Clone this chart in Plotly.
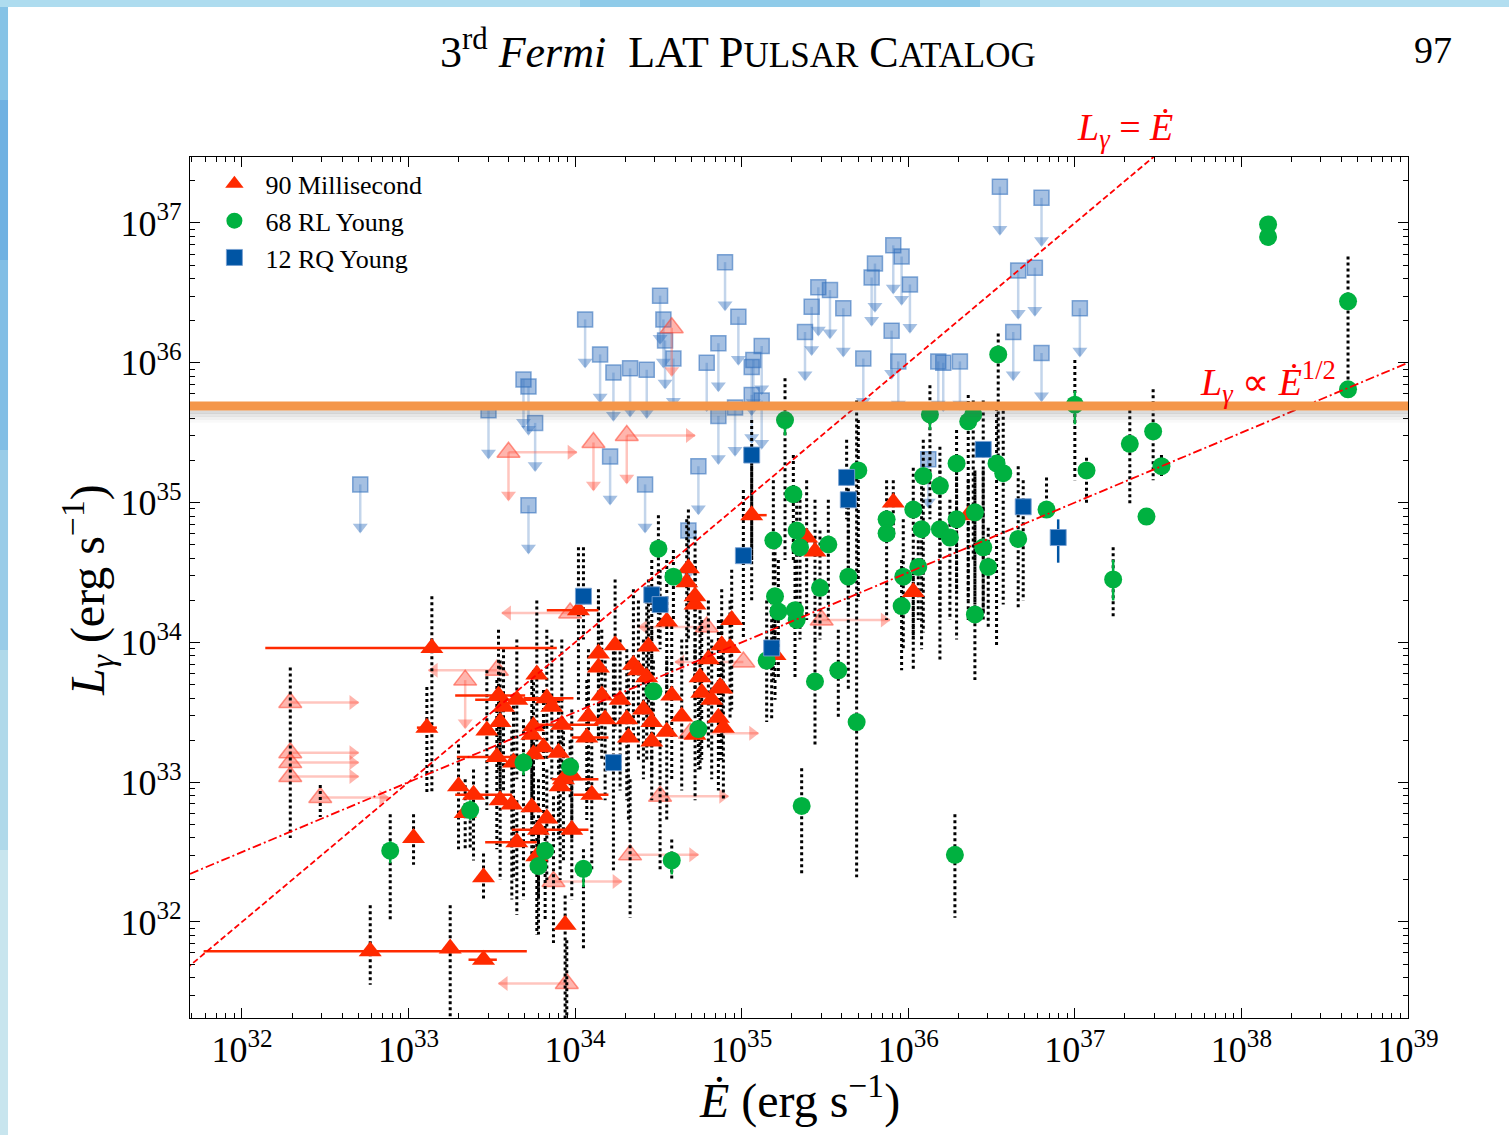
import numpy as np
import plotly.graph_objects as go

# ---------------- data: log10 values ----------------
# Millisecond pulsars (solid triangles)
msp_logE = [32.77, 33.25, 33.45, 33.94, 33.45, 33.03, 33.14, 33.11, 33.30, 33.39,
            33.55, 33.62, 33.74, 33.83, 33.78, 33.98, 33.65, 33.77, 33.34, 33.53,
            33.63, 33.75, 33.90, 33.98, 33.93, 34.10, 33.81, 33.55, 33.47, 33.75,
            33.74, 33.92, 34.08, 34.07, 34.32, 34.41, 34.46, 34.46, 34.55, 34.64,
            34.72, 34.86, 34.89, 33.54, 33.65, 33.57, 33.83, 33.86, 34.16, 34.31,
            34.58, 34.76, 33.77, 34.43, 34.80, 34.75, 34.88, 34.14, 34.35, 34.38,
            34.24, 34.14, 34.44, 34.88, 34.93, 34.02, 34.72, 34.55, 34.94, 34.68,
            34.67, 34.72, 35.06, 35.39, 35.44, 35.91, 36.36, 36.03, 35.20, 34.87,
            34.82, 34.27, 33.91, 34.18]
msp_logL = [31.79, 31.81, 31.73, 31.98, 32.32, 32.60, 33.96, 33.39, 32.97, 32.91,
            32.87, 32.84, 32.82, 32.74, 32.66, 32.66, 32.57, 32.47, 32.78, 33.18,
            33.14, 33.20, 33.21, 33.05, 33.02, 32.91, 33.25, 33.43, 33.37, 33.40,
            33.34, 33.41, 33.47, 33.32, 33.32, 33.52, 33.43, 33.29, 33.36, 33.47,
            33.34, 33.46, 33.39, 33.62, 33.59, 33.54, 33.60, 33.54, 33.62, 33.45,
            33.62, 33.64, 33.77, 33.75, 33.88, 33.75, 33.67, 33.82, 33.84, 33.80,
            33.98, 33.92, 33.97, 33.98, 33.96, 34.23, 34.27, 34.15, 34.16, 34.53,
            34.43, 34.33, 34.91, 34.75, 34.65, 35.00, 34.91, 34.36, 33.91, 33.68,
            33.59, 33.59, 32.97, 33.45]
msp_dist_hi = [32.12, 32.12, None, 32.19, 32.49, 32.77, 34.33, 33.68, 33.27, 33.09,
               33.59, 33.37, 33.45, 33.09, 33.02, 33.02, 32.87, 32.73, 33.02, 33.73,
               33.59, 33.45, 33.59, 33.52, 33.45, 33.30, 33.66, 33.87, 33.80, 33.80,
               33.73, 34.02, 33.95, 33.73, 33.87, 34.02, 34.09, 33.87, 33.87, 34.02,
               33.95, 34.16, 34.02, 34.09, 34.02, 33.95, 34.09, 34.02, 34.09, 33.95,
               34.16, 34.16, 34.30, 34.30, 34.30, 34.23, 34.16, 34.30, 34.38, 34.30,
               34.45, 34.38, 34.45, 34.38, 34.30, 34.68, 34.59, 34.59, 34.52, 34.95,
               34.88, 34.80, 35.31, 35.16, 35.02, 35.16, 35.16, 34.59, 34.16, 34.16,
               34.02, 34.02, 33.30, 33.87]
msp_dist_lo = [31.55, 31.25, None, 31.26, 32.16, 32.41, 32.92, 32.92, 32.52, 32.44,
               32.30, 32.16, 32.37, 32.30, 32.16, 32.16, 32.05, 31.91, 32.52, 32.52,
               32.30, 32.37, 32.59, 32.59, 32.44, 32.37, 32.73, 32.87, 32.80, 32.87,
               32.73, 33.02, 32.94, 32.73, 32.73, 33.02, 33.02, 32.87, 32.73, 32.94,
               32.87, 32.94, 32.87, 33.09, 33.02, 32.94, 33.16, 33.02, 33.16, 32.87,
               33.02, 33.16, 33.16, 33.16, 33.23, 33.09, 33.16, 33.30, 33.30, 33.16,
               33.37, 33.30, 33.45, 33.30, 33.45, 33.59, 33.59, 33.59, 33.52, 34.02,
               33.87, 33.73, 34.30, 34.16, 34.02, 34.73, 34.16, 34.02, 33.59, 33.16,
               33.02, 32.94, 32.30, 32.87]
# MSP Edot uncertainties (solid red horizontal bars)
msp_xbar_logL = [31.79, 31.73, 33.96, 33.39, 34.23, 33.62, 33.59, 33.60, 33.41,
                 33.18, 32.91, 32.57, 32.66, 33.02, 32.91, 33.32, 34.91]
msp_xbar_lo = [31.77, 33.36, 32.14, 33.05, 33.83, 33.28, 33.40, 33.69, 33.78,
               33.29, 33.28, 33.46, 33.62, 33.86, 33.99, 33.98, 35.06]
msp_xbar_hi = [33.71, 33.53, 33.89, 33.17, 34.14, 33.70, 33.93, 33.99, 34.14,
               33.69, 33.62, 33.77, 34.08, 34.14, 34.20, 34.20, 35.15]

# MSP limits (faded triangles with arrows): r = lower limit in Edot, l = upper limit, d = upper limit in L
mspl_logE = [32.29, 32.29, 32.29, 32.29, 32.47, 33.60, 34.31, 33.87, 34.33, 34.51,
             35.48, 34.69, 33.97, 33.53, 34.79, 33.95, 35.01, 33.34, 34.11, 34.58]
mspl_logL = [33.57, 33.21, 33.14, 33.04, 32.89, 35.36, 35.48, 32.29, 32.48, 32.90,
             34.16, 33.35, 34.21, 33.80, 34.11, 31.56, 33.86, 33.73, 35.43, 36.25]
mspl_dir = ['r', 'r', 'r', 'r', 'r', 'rd', 'rd', 'r', 'r', 'r',
            'r', 'r', 'l', 'l', 'l', 'l', 'l', 'd', 'd', 'd']
mspl_dist_hi = [33.82, None, None, None, 32.98, None, None, 32.90, 33.02, 33.30,
                None, None, None, None, None, 31.87, None, None, None, None]
mspl_dist_lo = [32.60, None, None, None, 32.75, None, None, 31.85, 32.03, 32.37,
                None, None, None, None, None, 31.25, None, None, None, None]

# Radio-loud young pulsars (green circles)
rl_logE = [38.16, 38.16, 38.64, 38.64, 37.00, 36.54, 35.26, 36.13, 36.36, 36.39,
           37.33, 37.47, 37.52, 37.07, 37.43, 37.23, 36.83, 36.66, 36.28, 36.40,
           36.48, 36.45, 36.53, 36.57, 36.29, 36.09, 36.19, 36.03, 36.08, 36.19,
           36.25, 36.29, 36.40, 35.87, 35.87, 36.06, 35.97, 35.96, 35.70, 35.64,
           35.52, 35.47, 35.58, 35.69, 35.44, 35.36, 35.31, 35.33, 35.35, 35.19,
           35.20, 35.22, 35.32, 35.33, 35.15, 34.50, 34.59, 34.47, 34.74, 34.58,
           33.97, 33.69, 33.37, 32.89, 33.82, 33.78, 34.05]
rl_logL = [36.99, 36.90, 36.44, 35.81, 35.70, 36.06, 35.59, 35.63, 35.58, 35.63,
           35.42, 35.51, 35.26, 35.23, 34.90, 34.45, 34.95, 34.74, 32.48, 34.20,
           34.54, 34.68, 35.28, 35.21, 35.28, 35.19, 35.12, 34.95, 34.81, 34.81,
           34.75, 34.88, 34.93, 34.88, 34.78, 34.54, 34.47, 34.26, 35.23, 34.47,
           34.70, 34.39, 33.80, 33.43, 33.72, 32.83, 35.06, 34.80, 34.68, 34.73,
           34.33, 34.22, 34.23, 34.16, 33.87, 34.67, 34.47, 33.65, 33.38, 32.44,
           33.11, 33.14, 32.80, 32.51, 32.51, 32.40, 32.38]
rl_dist_hi = [None, None, 36.76, None, 36.02, 36.21, 35.89, 35.84, 35.77, 35.73,
              35.66, 35.81, 35.34, 35.32, None, 34.68, 35.18, 35.26, 32.77, 35.21,
              34.82, 35.23, 35.72, 35.70, 35.52, 35.45, 35.40, 35.25, 35.16, 35.23,
              35.02, 35.23, 35.23, 35.16, None, 34.73, 34.88, 34.59, 35.59, 35.02,
              35.02, 34.80, 34.09, 35.73, 34.02, 33.10, 35.34, 35.02, 35.02, 35.16,
              34.73, 34.59, 34.59, None, 34.30, 34.91, 34.66, 33.87, 33.66, 32.59,
              33.30, 33.45, 32.94, 32.77, 32.73, 32.66, 32.52]
rl_dist_lo = [None, None, 35.73, None, 35.16, 35.31, 34.59, 34.88, 34.30, 34.59,
              34.98, 35.16, 35.18, 34.98, None, 34.18, 34.88, 34.25, 32.03, 33.73,
              34.09, 34.21, 33.98, 34.27, 34.35, 34.07, 34.18, 33.80, 33.95, 33.87,
              34.16, 34.02, 34.27, 34.16, None, 34.16, 33.95, 33.80, 34.30, 33.66,
              34.16, 34.02, 33.45, 32.32, 33.27, 32.34, 34.59, 34.16, 34.02, 33.73,
              33.95, 33.73, 33.73, None, 33.43, 34.02, 34.16, 33.30, 33.09, 32.30,
              32.87, 32.16, 32.52, 32.01, 32.01, 31.91, 31.80]
# short solid flux-error bars on some RL points
rl_cbar_logE = [37.00, 37.23, 33.37, 32.89, 34.05, 33.69, 36.13, 35.26, 34.58]
rl_cbar_hi = [35.80, 34.59, 32.87, 32.58, 32.44, 33.21, 35.70, 35.56, 32.47]
rl_cbar_lo = [35.56, 34.30, 32.73, 32.42, 32.25, 33.05, 35.52, 35.48, 32.34]

# Radio-quiet young pulsars (blue squares)
rq_logE = [34.05, 34.46, 34.51, 34.23, 35.18, 35.01, 35.06, 35.63, 35.64, 36.45, 36.69, 36.90]
rq_logL = [34.33, 34.34, 34.27, 33.14, 33.96, 34.62, 35.34, 35.18, 35.02, 35.38, 34.97, 34.75]
rq_dist_hi = [34.68, 34.59, 34.52, 34.02, 34.38, 35.09, 35.59, 35.45, 35.23, 35.73, 35.16, None]
rq_dist_lo = [34.02, 33.87, 33.95, 32.37, 33.45, 34.02, 34.59, 34.88, 34.23, 34.16, 34.30, None]
rq_cbar_logE = [36.90]
rq_cbar_hi = [34.88]
rq_cbar_lo = [34.57]

# Pulsars with only an upper limit on L (faded squares with down arrows)
rqul_logE = [32.71, 33.48, 33.69, 33.72, 33.76, 33.72, 34.06, 34.15, 34.23, 34.33,
             34.43, 34.51, 34.53, 34.54, 34.59, 34.21, 34.42, 34.74, 34.68, 34.79,
             34.86, 34.86, 34.90, 34.98, 34.96, 35.06, 35.07, 35.06, 35.12, 35.12,
             35.38, 35.42, 35.46, 35.53, 35.61, 35.73, 35.78, 35.80, 35.90, 35.91,
             35.94, 35.96, 36.01, 36.12, 36.18, 36.21, 36.31, 36.55, 36.63, 36.66,
             36.76, 36.80, 36.80, 37.03]
rqul_logL = [35.13, 35.66, 35.88, 35.83, 35.57, 34.98, 36.31, 36.06, 35.93, 35.96,
             35.95, 36.48, 36.31, 36.16, 36.03, 35.33, 35.13, 35.26, 34.80, 36.00,
             36.14, 35.62, 36.72, 36.33, 35.68, 35.97, 36.02, 35.77, 35.73, 36.12,
             36.22, 36.40, 36.54, 36.52, 36.39, 36.03, 36.61, 36.71, 36.23, 36.84,
             36.01, 36.76, 36.56, 35.31, 36.01, 36.00, 36.01, 37.26, 36.22, 36.66,
             36.68, 37.18, 36.07, 36.39]

# reference model lines
ref_logE = [31.5, 39.6]
ETA1_NORM = 1.0          # L = Edot
SQRT_NORM = 1e33         # L = sqrt(1e33 * Edot)

legend_names = ["90 Millisecond", "68 RL Young", "12 RQ Young"]

# ---------------- style ----------------
RED = '#FF2A00'
GREEN = '#00B140'
BLUE = '#0055A4'
FBLUE = 'rgba(55,115,190,0.45)'
FBLUE_EDGE = 'rgba(55,115,190,0.6)'
FBLUE_STEM = 'rgba(55,115,190,0.3)'
FRED = 'rgba(255,70,50,0.4)'
FRED_EDGE = 'rgba(255,70,50,0.55)'
FRED_STEM = 'rgba(255,90,70,0.35)'
FONT = 'Liberation Serif'
UL_DEX = 0.34   # arrow length (decades) for vertical limit arrows
H_DEX = 0.41    # arrow length (decades) for horizontal limit arrows
HEAD_OFF = 0.035


def p(v):
    return 10.0 ** v


def vsegs(xs, his, los):
    X, Y = [], []
    for x, h, l in zip(xs, his, los):
        if h is None or l is None:
            continue
        X += [p(x), p(x), None]
        Y += [p(h), p(l), None]
    return X, Y


def hsegs(ys, los, his):
    X, Y = [], []
    for y, a, b in zip(ys, los, his):
        X += [p(a), p(b), None]
        Y += [p(y), p(y), None]
    return X, Y


fig = go.Figure()

# ---- faded upper-limit squares ----
sx, sy = [], []
hx, hy = [], []
for e, l in zip(rqul_logE, rqul_logL):
    sx += [p(e), p(e), None]
    sy += [p(l), p(l - UL_DEX), None]
    hx.append(p(e))
    hy.append(p(l - UL_DEX + HEAD_OFF))
fig.add_trace(go.Scatter(x=sx, y=sy, mode='lines', line=dict(color=FBLUE_STEM, width=2.5),
                         showlegend=False, hoverinfo='skip'))
fig.add_trace(go.Scatter(x=hx, y=hy, mode='markers',
                         marker=dict(symbol='triangle-down', size=13, color=FBLUE, line=dict(width=0)),
                         showlegend=False, hoverinfo='skip'))
fig.add_trace(go.Scatter(x=[p(e) for e in rqul_logE], y=[p(l) for l in rqul_logL], mode='markers',
                         marker=dict(symbol='square', size=15, color=FBLUE,
                                     line=dict(color=FBLUE_EDGE, width=1.5)),
                         showlegend=False, hoverinfo='skip'))

# ---- faded MSP limits ----
ax_, ay_ = [], []
heads = {'triangle-right': ([], []), 'triangle-left': ([], []), 'triangle-down': ([], [])}
for e, l, d in zip(mspl_logE, mspl_logL, mspl_dir):
    if 'r' in d:
        ax_ += [p(e), p(e + H_DEX), None]
        ay_ += [p(l), p(l), None]
        heads['triangle-right'][0].append(p(e + H_DEX - HEAD_OFF))
        heads['triangle-right'][1].append(p(l))
    if 'l' in d:
        ax_ += [p(e), p(e - H_DEX), None]
        ay_ += [p(l), p(l), None]
        heads['triangle-left'][0].append(p(e - H_DEX + HEAD_OFF))
        heads['triangle-left'][1].append(p(l))
    if 'd' in d:
        ax_ += [p(e), p(e), None]
        ay_ += [p(l), p(l - UL_DEX), None]
        heads['triangle-down'][0].append(p(e))
        heads['triangle-down'][1].append(p(l - UL_DEX + HEAD_OFF))
fig.add_trace(go.Scatter(x=ax_, y=ay_, mode='lines', line=dict(color=FRED_STEM, width=2.5),
                         showlegend=False, hoverinfo='skip'))
for sym, (xx, yy) in heads.items():
    fig.add_trace(go.Scatter(x=xx, y=yy, mode='markers',
                             marker=dict(symbol=sym, size=13, color=FRED, line=dict(width=0)),
                             showlegend=False, hoverinfo='skip'))
fig.add_trace(go.Scatter(x=[p(e) for e in mspl_logE], y=[p(l) for l in mspl_logL], mode='markers',
                         marker=dict(symbol='triangle-up', size=20, color=FRED,
                                     line=dict(color=FRED_EDGE, width=1.5)),
                         showlegend=False, hoverinfo='skip'))

# ---- dotted distance-uncertainty bars ----
DX, DY = [], []
for xs, hs, ls in [(msp_logE, msp_dist_hi, msp_dist_lo),
                   (mspl_logE, mspl_dist_hi, mspl_dist_lo),
                   (rl_logE, rl_dist_hi, rl_dist_lo),
                   (rq_logE, rq_dist_hi, rq_dist_lo)]:
    a, b = vsegs(xs, hs, ls)
    DX += a
    DY += b
fig.add_trace(go.Scatter(x=DX, y=DY, mode='lines', line=dict(color='black', width=3, dash='dot'),
                         showlegend=False, hoverinfo='skip'))

# ---- solid error bars ----
a, b = hsegs(msp_xbar_logL, msp_xbar_lo, msp_xbar_hi)
fig.add_trace(go.Scatter(x=a, y=b, mode='lines', line=dict(color=RED, width=2.5),
                         showlegend=False, hoverinfo='skip'))
a, b = vsegs(rl_cbar_logE, rl_cbar_hi, rl_cbar_lo)
fig.add_trace(go.Scatter(x=a, y=b, mode='lines', line=dict(color=GREEN, width=2.5),
                         showlegend=False, hoverinfo='skip'))
a, b = vsegs(rq_cbar_logE, rq_cbar_hi, rq_cbar_lo)
fig.add_trace(go.Scatter(x=a, y=b, mode='lines', line=dict(color=BLUE, width=2.5),
                         showlegend=False, hoverinfo='skip'))

# ---- main markers ----
fig.add_trace(go.Scatter(x=[p(e) for e in msp_logE], y=[p(l) for l in msp_logL], mode='markers',
                         name=legend_names[0],
                         marker=dict(symbol='triangle-up', size=20, color=RED, line=dict(width=0))))
fig.add_trace(go.Scatter(x=[p(e) for e in rl_logE], y=[p(l) for l in rl_logL], mode='markers',
                         name=legend_names[1],
                         marker=dict(symbol='circle', size=18, color=GREEN, line=dict(width=0))))
fig.add_trace(go.Scatter(x=[p(e) for e in rq_logE], y=[p(l) for l in rq_logL], mode='markers',
                         name=legend_names[2],
                         marker=dict(symbol='square', size=16, color=BLUE,
                                     line=dict(color='rgba(120,160,210,0.9)', width=1))))

# ---- reference lines ----
refE = np.array([p(v) for v in ref_logE])
fig.add_trace(go.Scatter(x=refE, y=ETA1_NORM * refE, mode='lines',
                         line=dict(color='red', width=1.8, dash='6px,3px'),
                         showlegend=False, hoverinfo='skip'))
fig.add_trace(go.Scatter(x=refE, y=np.sqrt(SQRT_NORM * refE), mode='lines',
                         line=dict(color='red', width=1.8, dash='9px,3px,2px,3px'),
                         showlegend=False, hoverinfo='skip'))

# ---------------- layout ----------------
minor_vals = lambda lo, hi: [k * 10.0 ** n for n in range(lo, hi) for k in range(2, 10)]

axis_common = dict(type='log', showline=True, linecolor='black', linewidth=1.2, mirror='allticks',
                   ticks='inside', ticklen=10, tickwidth=1, tickcolor='black',
                   showgrid=False, zeroline=False,
                   tickfont=dict(family=FONT, size=36, color='black'))

x_ticks = list(range(32, 40))
y_ticks = list(range(32, 38))

fig.update_layout(
    width=1509, height=1135, autosize=False,
    margin=dict(l=190, r=101, t=157, b=117),
    paper_bgcolor='white', plot_bgcolor='white',
    font=dict(family=FONT, color='black'),
    legend=dict(x=0.011, y=0.996, xanchor='left', yanchor='top', bgcolor='rgba(0,0,0,0)',
                font=dict(size=26, family=FONT, color='black'), itemsizing='trace',
                itemwidth=52, tracegroupgap=0),
    xaxis=dict(range=[31.688, 39.0], tickvals=[p(t) for t in x_ticks],
               ticktext=[f'10<sup>{t}</sup>' for t in x_ticks],
               minor=dict(ticks='inside', ticklen=5, tickwidth=1, tickcolor='black',
                          tickmode='array', tickvals=minor_vals(31, 39), showgrid=False),
               **axis_common),
    yaxis=dict(range=[31.313, 37.472], tickvals=[p(t) for t in y_ticks],
               ticktext=[f'10<sup>{t}</sup>' for t in y_ticks],
               minor=dict(ticks='inside', ticklen=5, tickwidth=1, tickcolor='black',
                          tickmode='array', tickvals=minor_vals(31, 38), showgrid=False),
               **axis_common),
)

annotations = [
    dict(text="3<sup>rd</sup> <i>Fermi</i>  LAT P<span style='font-size:35px'>ULSAR</span> "
              "C<span style='font-size:35px'>ATALOG</span>",
         x=0.4499, y=1.1243, font=dict(size=44, family=FONT, color='black')),
    dict(text="97", x=1.0205, y=1.1243, font=dict(size=38, family=FONT, color='black')),
    dict(text="<i>L</i><sub><i>γ</i></sub> = <i>Ė</i>", x=0.7677, y=1.0314,
         font=dict(size=38, family=FONT, color='red')),
    dict(text="<i>L</i><sub><i>γ</i></sub> ∝ <i>Ė</i><sup>1/2</sup>", x=0.8851, y=0.7387,
         font=dict(size=38, family=FONT, color='red')),
    dict(text="<i>L</i><sub><i>γ</i></sub> (erg s<sup>−1</sup>)", x=-0.0837, y=0.4971,
         textangle=-90, font=dict(size=48, family=FONT, color='black')),
    dict(text="<i>Ė</i> (erg s<sup>−1</sup>)", x=0.5008, y=-0.0918,
         font=dict(size=48, family=FONT, color='black')),
]
for a_ in annotations:
    a_.update(xref='paper', yref='paper', showarrow=False, xanchor='center', yanchor='middle')
fig.update_layout(annotations=annotations)

shapes = []
# page background strips (blue gradient border of the screenshot)
left_bands = [(1.1823, 1.0662, '#86c3e6'), (1.0662, 0.8804, '#6fb1e2'), (0.8804, 0.6597, '#82bee5'),
              (0.6597, 0.4274, '#99cce8'), (0.4274, 0.1951, '#b0d9ea'), (0.1951, -0.1359, '#c8e5ee')]
for y1, y0, c in left_bands:
    shapes.append(dict(type='rect', xref='paper', yref='paper', x0=-0.156, x1=-0.1494, y0=y0, y1=y1,
                       fillcolor=c, line=dict(width=0), layer='above'))
top_bands = [(-0.156, 0.3202, '#aedcef'), (0.3202, 0.6486, '#8fcbe9'), (0.6486, 1.083, '#b2def0')]
for x0, x1, c in top_bands:
    shapes.append(dict(type='rect', xref='paper', yref='paper', x0=x0, x1=x1, y0=1.1742, y1=1.1823,
                       fillcolor=c, line=dict(width=0), layer='above'))
# orange highlight line with soft shadow
for yy, op in [(0.7038, 0.22), (0.7003, 0.15), (0.6969, 0.09), (0.6934, 0.04)]:
    shapes.append(dict(type='line', xref='paper', yref='paper', x0=0, x1=1, y0=yy, y1=yy,
                       line=dict(color=f'rgba(90,90,90,{op})', width=3.5), layer='above'))
shapes.append(dict(type='line', xref='paper', yref='paper', x0=0, x1=1, y0=0.7108, y1=0.7108,
                   line=dict(color='#F4964A', width=9), layer='above'))
fig.update_layout(shapes=shapes)

fig.write_html("out.html")
